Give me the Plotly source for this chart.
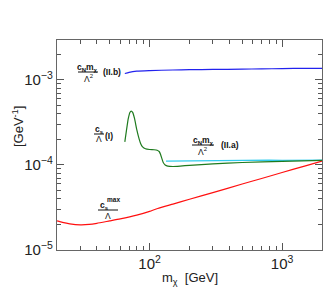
import plotly.graph_objects as go

# ---- data ----
mchi_red = [20, 22, 25, 30, 35, 40, 50, 60, 80, 100, 115, 150, 200, 300, 500, 700, 1000, 1500, 2000]
cs_max = [2.2e-5, 2.11e-5, 2.03e-5, 1.98e-5, 2.0e-5, 2.06e-5, 2.2e-5, 2.32e-5, 2.57e-5,
          2.85e-5, 3.08e-5, 3.47e-5, 3.95e-5, 4.74e-5, 5.97e-5, 6.94e-5, 8.15e-5, 9.78e-5, 1.11e-4]

mchi_blue = [65, 70, 80, 100, 150, 200, 300, 500, 700, 1000, 1500, 2000]
cn_IIb = [1.19e-3, 1.23e-3, 1.27e-3, 1.29e-3, 1.31e-3, 1.32e-3, 1.33e-3, 1.34e-3,
          1.35e-3, 1.36e-3, 1.37e-3, 1.37e-3]

mchi_green = [65, 67, 69, 71, 72.6, 74.5, 77, 80, 83.5, 86, 88.5, 93, 100, 108, 114, 118,
              121, 124, 127, 131, 137, 150, 170, 200, 300, 500, 1000, 2000]
cs_I = [1.87e-4, 2.6e-4, 3.5e-4, 4.15e-4, 4.31e-4, 4.15e-4, 3.5e-4, 2.6e-4, 2.0e-4,
        1.75e-4, 1.63e-4, 1.55e-4, 1.52e-4, 1.51e-4, 1.49e-4, 1.44e-4, 1.33e-4, 1.18e-4,
        1.06e-4, 1.0e-4, 9.7e-5, 9.6e-5, 9.7e-5, 9.9e-5, 1.03e-4, 1.07e-4, 1.1e-4, 1.13e-4]

mchi_cyan = [133, 200, 300, 500, 800, 1000, 2000]
cn_IIa = [1.11e-4, 1.12e-4, 1.12e-4, 1.13e-4, 1.14e-4, 1.13e-4, 1.14e-4]

x_tickvals = [100, 1000]
x_ticktext = ["10<sup>2</sup>", "10<sup>3</sup>"]
y_tickvals = [1e-5, 1e-4, 1e-3]
y_ticktext = ["10<sup>\u22125</sup>", "10<sup>\u22124</sup>", "10<sup>\u22123</sup>"]

# ---- layout geometry ----
W, H = 331, 289
L, R, T, B = 49, 314, 32, 242
PW, PH = R - L, B - T
FONT = "Liberation Sans, Arial, sans-serif"


def px(x):
    return (x - L) / PW


def py(y):
    return (B - y) / PH


fig = go.Figure()
fig.add_trace(go.Scatter(x=mchi_red, y=cs_max, mode="lines",
                         line=dict(color="#ff1010", width=1.2, shape="spline", smoothing=0.5)))
fig.add_trace(go.Scatter(x=mchi_cyan, y=cn_IIa, mode="lines",
                         line=dict(color="#33ccee", width=1.2)))
fig.add_trace(go.Scatter(x=mchi_green, y=cs_I, mode="lines",
                         line=dict(color="#1e7a1e", width=1.2, shape="spline", smoothing=0.5)))
fig.add_trace(go.Scatter(x=mchi_blue, y=cn_IIb, mode="lines",
                         line=dict(color="#2222ee", width=1.2, shape="spline", smoothing=0.6)))

minor_x = [30, 40, 50, 60, 70, 80, 90, 200, 300, 400, 500, 600, 700, 800, 900]
minor_y = [v * 10 ** e for e in (-5, -4, -3) for v in range(2, 10)]

common = dict(ticks="inside", ticklen=7, tickcolor="#555", tickwidth=1,
              showline=True, linecolor="#666", linewidth=1.3, mirror="allticks",
              showgrid=False, zeroline=False, automargin=False,
              tickfont=dict(family=FONT, size=15, color="#222"))
fig.update_xaxes(type="log", range=[1.30103, 3.30103], tickvals=x_tickvals,
                 ticktext=x_ticktext,
                 minor=dict(tickvals=minor_x, ticks="inside", ticklen=4,
                            tickcolor="#555", showgrid=False), **common)
fig.update_yaxes(type="log", range=[-5, -2.53], tickvals=y_tickvals,
                 ticktext=y_ticktext,
                 minor=dict(tickvals=minor_y, ticks="inside", ticklen=4,
                            tickcolor="#555", showgrid=False), **common)

ann = []
shapes = []


def text(x, y, s, size=8.5, bold=True):
    ann.append(dict(x=px(x), y=py(y), xref="paper", yref="paper",
                    text=(f"<b>{s}</b>" if bold else s),
                    showarrow=False, xanchor="center", yanchor="middle",
                    font=dict(family=FONT, size=size, color="#111")))


def bar(x0, x1, y):
    shapes.append(dict(type="line", xref="paper", yref="paper", x0=px(x0), x1=px(x1),
                       y0=py(y), y1=py(y), line=dict(color="#111", width=1)))


# (II.b)
text(79, 59, "c<sub>N</sub>m<sub>\u03c7</sub>")
bar(70, 90, 64)
text(80, 70, "\u039b<sup>2</sup>", bold=False)
text(104, 64, "(II.b)")
# (I)
text(91, 121, "c<sub>s</sub>")
bar(86, 96, 126)
text(91, 131, "\u039b", bold=False)
text(101, 128, "(I)")
# (II.a)
text(195, 132, "c<sub>N</sub>m<sub>\u03c7</sub>")
bar(184, 206, 137)
text(194, 143, "\u039b<sup>2</sup>", bold=False)
text(222, 137, "(II.a)")
# cs max
text(96, 197, "c<sub>s</sub>")
text(105, 191, "max", size=6.5)
bar(90, 110, 202)
text(100, 208, "\u039b", bold=False)

# axis titles
ann.append(dict(x=px(182), y=py(270), xref="paper", yref="paper",
                text="m<sub>\u03c7</sub>  [GeV]", showarrow=False,
                xanchor="center", yanchor="middle",
                font=dict(family=FONT, size=13, color="#222")))
ann.append(dict(x=px(10), y=py(119), xref="paper", yref="paper",
                text="[GeV<sup>-1</sup>]", showarrow=False, textangle=-90,
                xanchor="center", yanchor="middle",
                font=dict(family=FONT, size=13, color="#222")))

fig.update_layout(width=W, height=H, margin=dict(l=L, r=W - R, t=T, b=H - B),
                  paper_bgcolor="white", plot_bgcolor="white", showlegend=False,
                  annotations=ann, shapes=shapes)

fig.write_html("out.html")
